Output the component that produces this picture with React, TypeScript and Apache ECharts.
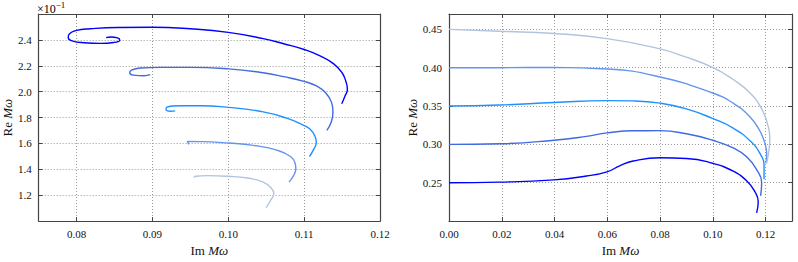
import React, { useEffect, useRef } from "react";
import * as echarts from "echarts";

// ---- Left panel: five spirals (x: Im Mω, y: Re Mω ×10^-1) ----
const leftCurve1: number[][] = [
  [0.11496, 1.906], [0.1154, 1.968], [0.1157, 2.017], [0.1155, 2.079], [0.115, 2.146],
  [0.1139, 2.215], [0.1121, 2.277], [0.11, 2.326], [0.1073, 2.37], [0.1046, 2.41],
  [0.1, 2.458], [0.095, 2.486], [0.09, 2.498], [0.0854, 2.496], [0.0818, 2.486],
  [0.08, 2.474], [0.079, 2.442], [0.0789, 2.417], [0.0794, 2.393], [0.081, 2.378],
  [0.0832, 2.373], [0.0849, 2.38], [0.0857, 2.398], [0.0854, 2.415], [0.0845, 2.422],
  [0.0839, 2.417],
];
const leftCurve2: number[][] = [
  [0.113, 1.701], [0.1136, 1.77], [0.1138, 1.844], [0.1136, 1.919], [0.1128, 1.993],
  [0.1117, 2.042], [0.11, 2.079], [0.1073, 2.116], [0.1046, 2.146], [0.1, 2.176],
  [0.095, 2.188], [0.0911, 2.188], [0.0884, 2.183], [0.0872, 2.165], [0.087, 2.146],
  [0.0875, 2.128], [0.0889, 2.123], [0.0897, 2.131],
];
const leftCurve3: number[][] = [
  [0.1107, 1.499], [0.1112, 1.548], [0.1116, 1.61], [0.1114, 1.659], [0.1108, 1.709],
  [0.11, 1.738], [0.1077, 1.795], [0.1046, 1.844], [0.1, 1.879], [0.0963, 1.891],
  [0.0937, 1.891], [0.0919, 1.881], [0.0918, 1.862], [0.0924, 1.849], [0.093, 1.852],
];
const leftCurve4: number[][] = [
  [0.108, 1.301], [0.1086, 1.351], [0.1089, 1.405], [0.1088, 1.449], [0.1082, 1.499],
  [0.1064, 1.548], [0.1033, 1.585], [0.1, 1.603], [0.0963, 1.614], [0.0946, 1.615],
  [0.0948, 1.593],
];
const leftCurve5: number[][] = [
  [0.105, 1.104], [0.1055, 1.153], [0.106, 1.215], [0.1057, 1.252], [0.1046, 1.301],
  [0.1025, 1.333], [0.1, 1.346], [0.0972, 1.351], [0.0957, 1.346], [0.0955, 1.336],
];

// ---- Right panel: five branches ----
const rightCurve025: number[][] = [
  [0, 0.25], [0.0192, 0.2508], [0.0398, 0.2538], [0.0521, 0.2588], [0.0599, 0.2642],
  [0.0647, 0.2721], [0.0698, 0.2783], [0.08, 0.2825], [0.09, 0.2817], [0.0999, 0.2754],
  [0.1077, 0.265], [0.1128, 0.2525], [0.116, 0.2379], [0.1172, 0.2254], [0.1166, 0.2108],
];
const rightCurve030: number[][] = [
  [0, 0.3], [0.0192, 0.3008], [0.0398, 0.3055], [0.0521, 0.3105], [0.0599, 0.315],
  [0.0698, 0.3178], [0.08, 0.3179], [0.09, 0.3138], [0.0999, 0.3054], [0.1077, 0.2954],
  [0.1128, 0.2838], [0.1166, 0.2671], [0.1185, 0.2504], [0.1181, 0.2329],
];
const rightCurve035: number[][] = [
  [0, 0.35], [0.0192, 0.3513], [0.0398, 0.3546], [0.0599, 0.3571], [0.0698, 0.3567],
  [0.08, 0.3538], [0.09, 0.3463], [0.0999, 0.3338], [0.1077, 0.3213], [0.1141, 0.3046],
  [0.1179, 0.2879], [0.1194, 0.2713], [0.1194, 0.2546],
];
const rightCurve040: number[][] = [
  [0, 0.4], [0.0192, 0.4], [0.0398, 0.4004], [0.0599, 0.3983], [0.08, 0.3879],
  [0.0999, 0.367], [0.1077, 0.3537], [0.1141, 0.3358], [0.1179, 0.3171], [0.1198, 0.3004],
  [0.1204, 0.2879], [0.1201, 0.2754],
];
const rightCurve045: number[][] = [
  [0, 0.45], [0.0192, 0.4475], [0.0398, 0.4446], [0.0599, 0.4379], [0.08, 0.4246],
  [0.0888, 0.415], [0.0999, 0.4004], [0.1077, 0.3846], [0.1141, 0.367], [0.1185, 0.3463],
  [0.1208, 0.3254], [0.1216, 0.3088], [0.1214, 0.2963], [0.1204, 0.2754],
];

// ---- Ticks ----
const leftXTicks = [0.08, 0.09, 0.1, 0.11, 0.12];
const leftYTicks = [1.2, 1.4, 1.6, 1.8, 2.0, 2.2, 2.4];
const rightXTicks = [0, 0.02, 0.04, 0.06, 0.08, 0.1, 0.12];
const rightYTicks = [0.25, 0.3, 0.35, 0.4, 0.45];

const curveColors = ["#0000ff", "#4169e1", "#1e90ff", "#6495ed", "#b0c4de"];

const FONT = "Liberation Serif";
const FRAME = "#444";

export default function App() {
  const ref = useRef<HTMLDivElement>(null);
  useEffect(() => {
    document.body.style.margin = "0";
    const chart = echarts.init(ref.current!, undefined, { renderer: "svg" });

    const nameStyle = {
      fontFamily: FONT,
      fontSize: 13,
      color: "#111",
      rich: {
        r: { fontFamily: FONT, fontSize: 13, color: "#111" },
        i: { fontFamily: FONT, fontSize: 13, color: "#111", fontStyle: "italic" },
      },
    };
    const labelStyle = (fmt: (v: number) => string, ticks: number[]) => ({
      show: true,
      fontFamily: FONT,
      fontSize: 11,
      color: "#111",
      formatter: fmt,
      customValues: ticks,
      margin: 7,
    });
    const mainAxis = (
      gridIndex: number,
      min: number,
      max: number,
      ticks: number[],
      fmt: (v: number) => string,
      extra: any
    ) => ({
      type: "value",
      gridIndex,
      min,
      max,
      axisLine: { show: true, onZero: false, lineStyle: { color: FRAME, width: 1.2 } },
      axisTick: { show: true, inside: true, length: 4, customValues: ticks, lineStyle: { color: FRAME } },
      axisLabel: labelStyle(fmt, ticks),
      splitLine: { show: true, lineStyle: { color: "#999", type: [1, 2], width: 1 } },
      nameLocation: "middle",
      nameTextStyle: nameStyle,
      ...extra,
    });
    const mirrorAxis = (gridIndex: number, min: number, max: number, ticks: number[], position: string) => ({
      type: "value",
      gridIndex,
      min,
      max,
      position,
      axisLine: { show: true, onZero: false, lineStyle: { color: FRAME, width: 1.2 } },
      axisTick: { show: true, inside: true, length: 4, customValues: ticks, lineStyle: { color: FRAME } },
      axisLabel: { show: false, customValues: ticks },
      splitLine: { show: false },
    });

    const f2 = (v: number) => v.toFixed(2);
    const f1 = (v: number) => v.toFixed(1);

    const leftData = [leftCurve1, leftCurve2, leftCurve3, leftCurve4, leftCurve5];
    const rightData = [rightCurve025, rightCurve030, rightCurve035, rightCurve040, rightCurve045];

    const series: any[] = [];
    leftData.forEach((d, i) =>
      series.push({
        type: "line",
        xAxisIndex: 0,
        yAxisIndex: 0,
        data: d,
        smooth: 0.5,
        showSymbol: false,
        lineStyle: { color: curveColors[i], width: 1.4 },
        z: 5,
      })
    );
    rightData.forEach((d, i) =>
      series.push({
        type: "line",
        xAxisIndex: 2,
        yAxisIndex: 2,
        data: d,
        smooth: 0.5,
        showSymbol: false,
        lineStyle: { color: curveColors[i], width: 1.4 },
        z: 5,
      })
    );

    chart.setOption({
      animation: false,
      backgroundColor: "#fff",
      grid: [
        { left: 37, right: 418, top: 14, bottom: 32, containLabel: false },
        { left: 449, right: 6, top: 14, bottom: 32, containLabel: false },
      ],
      xAxis: [
        mainAxis(0, 0.075, 0.12, leftXTicks, f2, { position: "bottom", name: "{r|Im }{i|Mω}", nameGap: 20 }),
        mirrorAxis(0, 0.075, 0.12, leftXTicks, "top"),
        mainAxis(1, 0, 0.13, rightXTicks, f2, { position: "bottom", name: "{r|Im }{i|Mω}", nameGap: 20 }),
        mirrorAxis(1, 0, 0.13, rightXTicks, "top"),
      ],
      yAxis: [
        mainAxis(0, 1.0, 2.6, leftYTicks, f1, { position: "left", name: "{r|Re }{i|Mω}", nameGap: 21 }),
        mirrorAxis(0, 1.0, 2.6, leftYTicks, "right"),
        mainAxis(1, 0.2, 0.47, rightYTicks, f2, { position: "left", name: "{r|Re }{i|Mω}", nameGap: 29 }),
        mirrorAxis(1, 0.2, 0.47, rightYTicks, "right"),
      ],
      graphic: [
        {
          type: "text",
          left: 37,
          top: 0,
          style: {
            text: "{a|×10}{s|−1}",
            rich: {
              a: { fontFamily: FONT, fontSize: 12, color: "#111", verticalAlign: "bottom" },
              s: { fontFamily: FONT, fontSize: 9, color: "#111", verticalAlign: "top", padding: [0, 0, 6, 0] },
            },
          },
        },
      ],
      series,
    });
    return () => chart.dispose();
  }, []);
  return <div ref={ref} style={{ width: 798, height: 262 }} />;
}
